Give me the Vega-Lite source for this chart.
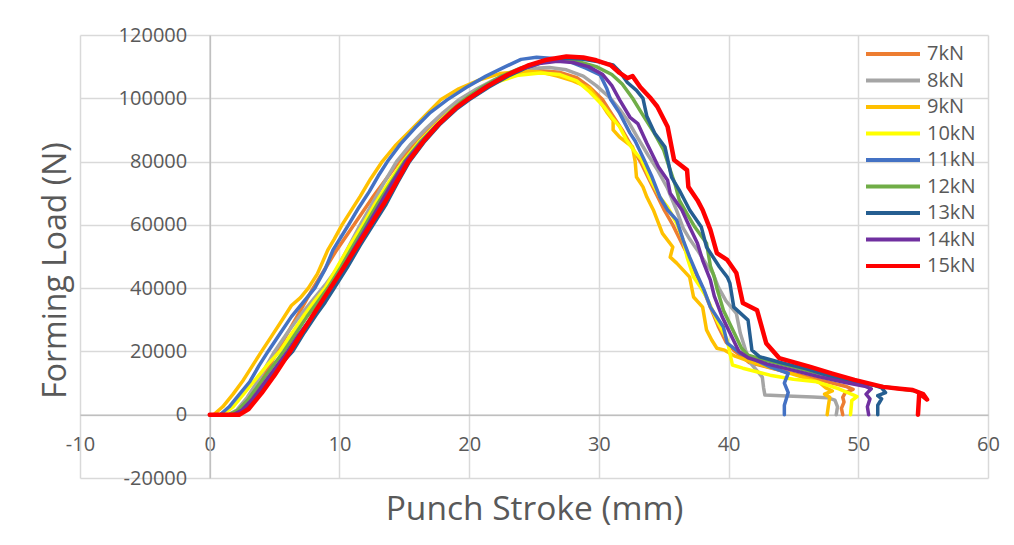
{
"$schema":"https://vega.github.io/schema/vega-lite/v6.json",
"width":908,"height":443,
"autosize":{"type":"none"},
"padding":{"left":80,"top":35,"right":26,"bottom":67},
"background":"white",
"config":{"view":{"stroke":null},"font":"Open Sans"},
"data":{"values":[
{"s":"7kN","x":0,"y":0},{"s":"7kN","x":1.6,"y":0},{"s":"7kN","x":2.3,"y":1500},{"s":"7kN","x":3.0,"y":5000},{"s":"7kN","x":3.8,"y":9500},{"s":"7kN","x":4.5,"y":14500},{"s":"7kN","x":5.2,"y":20000},{"s":"7kN","x":6.1,"y":26500},{"s":"7kN","x":7.0,"y":33000},{"s":"7kN","x":7.9,"y":39500},{"s":"7kN","x":8.8,"y":45500},{"s":"7kN","x":9.7,"y":51500},{"s":"7kN","x":10.7,"y":57500},{"s":"7kN","x":11.7,"y":63500},{"s":"7kN","x":12.7,"y":69500},{"s":"7kN","x":13.7,"y":75000},{"s":"7kN","x":14.6,"y":80000},{"s":"7kN","x":15.7,"y":85000},{"s":"7kN","x":16.9,"y":90000},{"s":"7kN","x":18.2,"y":95000},{"s":"7kN","x":19.5,"y":99500},{"s":"7kN","x":21.0,"y":103500},{"s":"7kN","x":22.5,"y":106500},{"s":"7kN","x":24.0,"y":108200},{"s":"7kN","x":25.5,"y":108700},{"s":"7kN","x":27.0,"y":108200},{"s":"7kN","x":28.3,"y":106500},{"s":"7kN","x":29.3,"y":103500},{"s":"7kN","x":30.3,"y":99500},{"s":"7kN","x":31.0,"y":95000},{"s":"7kN","x":31.8,"y":90000},{"s":"7kN","x":32.5,"y":85000},{"s":"7kN","x":33.2,"y":80000},{"s":"7kN","x":33.8,"y":75000},{"s":"7kN","x":34.4,"y":70000},{"s":"7kN","x":35.0,"y":65000},{"s":"7kN","x":35.7,"y":60000},{"s":"7kN","x":36.3,"y":55000},{"s":"7kN","x":36.9,"y":50000},{"s":"7kN","x":37.5,"y":44500},{"s":"7kN","x":38.0,"y":40000},{"s":"7kN","x":38.6,"y":34000},{"s":"7kN","x":39.2,"y":28000},{"s":"7kN","x":39.8,"y":23000},{"s":"7kN","x":40.5,"y":20000},{"s":"7kN","x":41.6,"y":16500},{"s":"7kN","x":43.5,"y":14500},{"s":"7kN","x":45.5,"y":12500},{"s":"7kN","x":47.5,"y":10500},{"s":"7kN","x":49.0,"y":9000},{"s":"7kN","x":49.6,"y":8000},{"s":"7kN","x":49.0,"y":7000},{"s":"7kN","x":48.8,"y":5500},{"s":"7kN","x":48.9,"y":4000},{"s":"7kN","x":48.7,"y":2000},{"s":"7kN","x":48.8,"y":0},
{"s":"8kN","x":0,"y":0},{"s":"8kN","x":1.4,"y":0},{"s":"8kN","x":2.1,"y":1500},{"s":"8kN","x":2.9,"y":5500},{"s":"8kN","x":3.6,"y":10000},{"s":"8kN","x":4.3,"y":15000},{"s":"8kN","x":5.0,"y":20000},{"s":"8kN","x":6.0,"y":26000},{"s":"8kN","x":7.0,"y":31500},{"s":"8kN","x":8.0,"y":36500},{"s":"8kN","x":8.9,"y":41000},{"s":"8kN","x":9.8,"y":46000},{"s":"8kN","x":10.7,"y":53000},{"s":"8kN","x":11.6,"y":60000},{"s":"8kN","x":12.5,"y":66500},{"s":"8kN","x":13.4,"y":73000},{"s":"8kN","x":14.4,"y":80000},{"s":"8kN","x":15.5,"y":85500},{"s":"8kN","x":16.7,"y":90500},{"s":"8kN","x":18.0,"y":95500},{"s":"8kN","x":19.2,"y":99500},{"s":"8kN","x":20.6,"y":103000},{"s":"8kN","x":22.0,"y":106000},{"s":"8kN","x":23.5,"y":108300},{"s":"8kN","x":25.0,"y":109500},{"s":"8kN","x":26.2,"y":109700},{"s":"8kN","x":27.5,"y":109000},{"s":"8kN","x":28.8,"y":107000},{"s":"8kN","x":29.8,"y":104000},{"s":"8kN","x":30.9,"y":100000},{"s":"8kN","x":31.6,"y":96500},{"s":"8kN","x":32.3,"y":92500},{"s":"8kN","x":33.0,"y":87500},{"s":"8kN","x":33.8,"y":82000},{"s":"8kN","x":34.5,"y":77500},{"s":"8kN","x":35.3,"y":71500},{"s":"8kN","x":36.0,"y":64500},{"s":"8kN","x":36.5,"y":59000},{"s":"8kN","x":37.0,"y":55500},{"s":"8kN","x":37.6,"y":52000},{"s":"8kN","x":38.3,"y":47500},{"s":"8kN","x":38.8,"y":44700},{"s":"8kN","x":39.2,"y":40400},{"s":"8kN","x":39.8,"y":36000},{"s":"8kN","x":40.6,"y":32000},{"s":"8kN","x":40.9,"y":25800},{"s":"8kN","x":41.3,"y":20500},{"s":"8kN","x":41.7,"y":16300},{"s":"8kN","x":42.6,"y":11900},{"s":"8kN","x":42.7,"y":8500},{"s":"8kN","x":42.8,"y":6200},{"s":"8kN","x":44.5,"y":5900},{"s":"8kN","x":46.5,"y":5600},{"s":"8kN","x":47.6,"y":5400},{"s":"8kN","x":48.2,"y":4600},{"s":"8kN","x":48.4,"y":2500},{"s":"8kN","x":48.3,"y":0},
{"s":"9kN","x":0,"y":0},{"s":"9kN","x":0.3,"y":0},{"s":"9kN","x":1.0,"y":2500},{"s":"9kN","x":1.8,"y":6500},{"s":"9kN","x":2.6,"y":11000},{"s":"9kN","x":3.3,"y":15500},{"s":"9kN","x":4.0,"y":20000},{"s":"9kN","x":4.8,"y":25000},{"s":"9kN","x":5.6,"y":30000},{"s":"9kN","x":6.3,"y":34500},{"s":"9kN","x":7.0,"y":37000},{"s":"9kN","x":7.6,"y":40000},{"s":"9kN","x":8.3,"y":44500},{"s":"9kN","x":9.1,"y":52000},{"s":"9kN","x":9.6,"y":55500},{"s":"9kN","x":10.2,"y":60000},{"s":"9kN","x":10.9,"y":64500},{"s":"9kN","x":11.6,"y":69000},{"s":"9kN","x":12.4,"y":74500},{"s":"9kN","x":13.3,"y":80000},{"s":"9kN","x":14.3,"y":85000},{"s":"9kN","x":15.4,"y":89500},{"s":"9kN","x":16.6,"y":94500},{"s":"9kN","x":17.8,"y":99500},{"s":"9kN","x":19.2,"y":103000},{"s":"9kN","x":20.8,"y":105800},{"s":"9kN","x":22.4,"y":107800},{"s":"9kN","x":24.2,"y":108600},{"s":"9kN","x":25.5,"y":108300},{"s":"9kN","x":26.8,"y":107000},{"s":"9kN","x":28.0,"y":105500},{"s":"9kN","x":29.3,"y":103200},{"s":"9kN","x":30.1,"y":98900},{"s":"9kN","x":30.6,"y":95700},{"s":"9kN","x":31.1,"y":93000},{"s":"9kN","x":31.1,"y":90000},{"s":"9kN","x":31.6,"y":87700},{"s":"9kN","x":32.6,"y":84600},{"s":"9kN","x":32.8,"y":80000},{"s":"9kN","x":32.9,"y":75100},{"s":"9kN","x":33.4,"y":72000},{"s":"9kN","x":33.7,"y":68800},{"s":"9kN","x":34.2,"y":64700},{"s":"9kN","x":34.9,"y":57300},{"s":"9kN","x":35.7,"y":53000},{"s":"9kN","x":35.5,"y":49800},{"s":"9kN","x":36.0,"y":47900},{"s":"9kN","x":37.0,"y":43500},{"s":"9kN","x":37.3,"y":37200},{"s":"9kN","x":38.0,"y":34000},{"s":"9kN","x":38.3,"y":26800},{"s":"9kN","x":38.7,"y":23600},{"s":"9kN","x":39.1,"y":21000},{"s":"9kN","x":39.7,"y":20400},{"s":"9kN","x":40.5,"y":18500},{"s":"9kN","x":42.0,"y":16300},{"s":"9kN","x":44.0,"y":14000},{"s":"9kN","x":46.0,"y":11500},{"s":"9kN","x":47.0,"y":10200},{"s":"9kN","x":47.5,"y":8500},{"s":"9kN","x":48.0,"y":7500},{"s":"9kN","x":47.4,"y":6500},{"s":"9kN","x":47.8,"y":5500},{"s":"9kN","x":47.7,"y":3000},{"s":"9kN","x":47.6,"y":0},
{"s":"10kN","x":0,"y":0},{"s":"10kN","x":1.0,"y":0},{"s":"10kN","x":1.8,"y":2500},{"s":"10kN","x":2.7,"y":7000},{"s":"10kN","x":3.6,"y":11500},{"s":"10kN","x":4.5,"y":16000},{"s":"10kN","x":5.4,"y":20000},{"s":"10kN","x":6.3,"y":25500},{"s":"10kN","x":7.2,"y":31000},{"s":"10kN","x":8.1,"y":36000},{"s":"10kN","x":8.9,"y":40000},{"s":"10kN","x":9.8,"y":46500},{"s":"10kN","x":10.8,"y":53500},{"s":"10kN","x":11.8,"y":60000},{"s":"10kN","x":12.8,"y":67000},{"s":"10kN","x":13.9,"y":74000},{"s":"10kN","x":14.9,"y":80000},{"s":"10kN","x":16.1,"y":86000},{"s":"10kN","x":17.4,"y":91500},{"s":"10kN","x":18.7,"y":96500},{"s":"10kN","x":20.3,"y":101500},{"s":"10kN","x":22.0,"y":105000},{"s":"10kN","x":23.8,"y":107300},{"s":"10kN","x":25.5,"y":108000},{"s":"10kN","x":27.0,"y":107500},{"s":"10kN","x":28.3,"y":105500},{"s":"10kN","x":29.3,"y":102000},{"s":"10kN","x":30.4,"y":97300},{"s":"10kN","x":31.0,"y":94000},{"s":"10kN","x":31.6,"y":91000},{"s":"10kN","x":32.1,"y":87000},{"s":"10kN","x":32.7,"y":83500},{"s":"10kN","x":33.3,"y":80500},{"s":"10kN","x":34.0,"y":74100},{"s":"10kN","x":34.7,"y":68800},{"s":"10kN","x":35.3,"y":65600},{"s":"10kN","x":36.0,"y":60500},{"s":"10kN","x":36.5,"y":55200},{"s":"10kN","x":36.8,"y":49800},{"s":"10kN","x":37.3,"y":43500},{"s":"10kN","x":37.8,"y":40500},{"s":"10kN","x":38.3,"y":37200},{"s":"10kN","x":39.2,"y":29000},{"s":"10kN","x":39.9,"y":23600},{"s":"10kN","x":40.1,"y":19500},{"s":"10kN","x":40.3,"y":15700},{"s":"10kN","x":41.1,"y":14700},{"s":"10kN","x":43.2,"y":12500},{"s":"10kN","x":45.0,"y":11200},{"s":"10kN","x":46.8,"y":10400},{"s":"10kN","x":48.5,"y":8200},{"s":"10kN","x":49.6,"y":6300},{"s":"10kN","x":49.9,"y":5700},{"s":"10kN","x":49.5,"y":4500},{"s":"10kN","x":49.4,"y":0},
{"s":"11kN","x":0,"y":0},{"s":"11kN","x":0.8,"y":0},{"s":"11kN","x":1.5,"y":2500},{"s":"11kN","x":2.3,"y":6500},{"s":"11kN","x":3.1,"y":10500},{"s":"11kN","x":3.8,"y":15500},{"s":"11kN","x":4.5,"y":20000},{"s":"11kN","x":5.4,"y":25500},{"s":"11kN","x":6.3,"y":31000},{"s":"11kN","x":7.2,"y":35500},{"s":"11kN","x":8.1,"y":40000},{"s":"11kN","x":8.9,"y":46000},{"s":"11kN","x":9.5,"y":52000},{"s":"11kN","x":10.1,"y":56000},{"s":"11kN","x":10.7,"y":60000},{"s":"11kN","x":11.5,"y":65500},{"s":"11kN","x":12.3,"y":70500},{"s":"11kN","x":13.0,"y":75500},{"s":"11kN","x":13.7,"y":80000},{"s":"11kN","x":14.7,"y":85500},{"s":"11kN","x":15.8,"y":90500},{"s":"11kN","x":17.0,"y":95500},{"s":"11kN","x":18.3,"y":99500},{"s":"11kN","x":19.8,"y":103500},{"s":"11kN","x":21.3,"y":107000},{"s":"11kN","x":22.8,"y":110000},{"s":"11kN","x":24.0,"y":112300},{"s":"11kN","x":25.2,"y":113000},{"s":"11kN","x":26.5,"y":112600},{"s":"11kN","x":27.8,"y":111500},{"s":"11kN","x":29.0,"y":109500},{"s":"11kN","x":30.1,"y":107400},{"s":"11kN","x":30.6,"y":103200},{"s":"11kN","x":30.9,"y":99700},{"s":"11kN","x":31.6,"y":95300},{"s":"11kN","x":32.4,"y":89000},{"s":"11kN","x":32.8,"y":86500},{"s":"11kN","x":33.4,"y":81400},{"s":"11kN","x":34.1,"y":75100},{"s":"11kN","x":34.7,"y":68800},{"s":"11kN","x":35.3,"y":64700},{"s":"11kN","x":36.0,"y":61500},{"s":"11kN","x":36.5,"y":55200},{"s":"11kN","x":37.0,"y":49800},{"s":"11kN","x":37.6,"y":44000},{"s":"11kN","x":38.1,"y":39500},{"s":"11kN","x":38.6,"y":34000},{"s":"11kN","x":39.6,"y":27700},{"s":"11kN","x":39.9,"y":22600},{"s":"11kN","x":40.9,"y":19400},{"s":"11kN","x":42.0,"y":17500},{"s":"11kN","x":43.2,"y":15100},{"s":"11kN","x":44.6,"y":13100},{"s":"11kN","x":44.3,"y":10000},{"s":"11kN","x":44.6,"y":7000},{"s":"11kN","x":44.3,"y":3000},{"s":"11kN","x":44.3,"y":0},
{"s":"12kN","x":0,"y":0},{"s":"12kN","x":1.5,"y":0},{"s":"12kN","x":2.2,"y":1500},{"s":"12kN","x":3.0,"y":5000},{"s":"12kN","x":3.8,"y":9500},{"s":"12kN","x":4.7,"y":14500},{"s":"12kN","x":5.7,"y":20000},{"s":"12kN","x":6.6,"y":25500},{"s":"12kN","x":7.5,"y":31000},{"s":"12kN","x":8.3,"y":35500},{"s":"12kN","x":9.1,"y":40000},{"s":"12kN","x":10.1,"y":46500},{"s":"12kN","x":11.0,"y":53000},{"s":"12kN","x":12.0,"y":60000},{"s":"12kN","x":13.0,"y":67000},{"s":"12kN","x":14.0,"y":73500},{"s":"12kN","x":15.0,"y":80000},{"s":"12kN","x":16.2,"y":86000},{"s":"12kN","x":17.5,"y":91500},{"s":"12kN","x":18.6,"y":96000},{"s":"12kN","x":19.6,"y":99500},{"s":"12kN","x":21.0,"y":103500},{"s":"12kN","x":22.5,"y":107000},{"s":"12kN","x":24.0,"y":109600},{"s":"12kN","x":25.5,"y":111300},{"s":"12kN","x":27.0,"y":112000},{"s":"12kN","x":28.5,"y":111500},{"s":"12kN","x":29.8,"y":110000},{"s":"12kN","x":31.0,"y":107500},{"s":"12kN","x":31.8,"y":104500},{"s":"12kN","x":32.6,"y":100000},{"s":"12kN","x":33.3,"y":95300},{"s":"12kN","x":34.2,"y":89500},{"s":"12kN","x":35.0,"y":83600},{"s":"12kN","x":35.5,"y":77300},{"s":"12kN","x":35.9,"y":72500},{"s":"12kN","x":36.2,"y":67800},{"s":"12kN","x":36.8,"y":63500},{"s":"12kN","x":37.4,"y":59300},{"s":"12kN","x":38.3,"y":54200},{"s":"12kN","x":38.6,"y":47000},{"s":"12kN","x":38.9,"y":43500},{"s":"12kN","x":39.1,"y":40000},{"s":"12kN","x":39.6,"y":33000},{"s":"12kN","x":40.3,"y":27000},{"s":"12kN","x":41.0,"y":21000},{"s":"12kN","x":41.5,"y":18800},{"s":"12kN","x":43.0,"y":17000},{"s":"12kN","x":45.0,"y":15000},{"s":"12kN","x":47.0,"y":13000},{"s":"12kN","x":49.0,"y":11000},{"s":"12kN","x":51.0,"y":9400},{"s":"12kN","x":53.0,"y":8300},{"s":"12kN","x":54.3,"y":7600},{"s":"12kN","x":55.0,"y":6500},{"s":"12kN","x":55.3,"y":4800},
{"s":"13kN","x":0,"y":0},{"s":"13kN","x":2.0,"y":0},{"s":"13kN","x":2.7,"y":1500},{"s":"13kN","x":3.5,"y":5000},{"s":"13kN","x":4.5,"y":10500},{"s":"13kN","x":5.5,"y":16000},{"s":"13kN","x":6.4,"y":20000},{"s":"13kN","x":7.3,"y":26000},{"s":"13kN","x":8.2,"y":31500},{"s":"13kN","x":8.9,"y":35500},{"s":"13kN","x":9.6,"y":40000},{"s":"13kN","x":10.6,"y":46500},{"s":"13kN","x":11.6,"y":53500},{"s":"13kN","x":12.6,"y":60000},{"s":"13kN","x":13.6,"y":66500},{"s":"13kN","x":14.5,"y":73500},{"s":"13kN","x":15.4,"y":80000},{"s":"13kN","x":16.6,"y":86500},{"s":"13kN","x":17.8,"y":92000},{"s":"13kN","x":19.0,"y":96500},{"s":"13kN","x":20.0,"y":99500},{"s":"13kN","x":21.5,"y":103500},{"s":"13kN","x":23.0,"y":107000},{"s":"13kN","x":24.5,"y":109800},{"s":"13kN","x":26.0,"y":111800},{"s":"13kN","x":27.5,"y":112700},{"s":"13kN","x":28.8,"y":112300},{"s":"13kN","x":30.0,"y":111500},{"s":"13kN","x":31.1,"y":110500},{"s":"13kN","x":31.6,"y":108500},{"s":"13kN","x":32.2,"y":105000},{"s":"13kN","x":32.9,"y":102500},{"s":"13kN","x":33.4,"y":100000},{"s":"13kN","x":33.7,"y":94300},{"s":"13kN","x":34.3,"y":89000},{"s":"13kN","x":35.1,"y":84600},{"s":"13kN","x":35.6,"y":75100},{"s":"13kN","x":36.2,"y":71000},{"s":"13kN","x":37.0,"y":64700},{"s":"13kN","x":37.9,"y":59300},{"s":"13kN","x":38.3,"y":53000},{"s":"13kN","x":39.3,"y":46700},{"s":"13kN","x":39.9,"y":43500},{"s":"13kN","x":40.1,"y":41600},{"s":"13kN","x":40.4,"y":34000},{"s":"13kN","x":41.5,"y":29900},{"s":"13kN","x":41.8,"y":20400},{"s":"13kN","x":42.4,"y":18300},{"s":"13kN","x":44.0,"y":16500},{"s":"13kN","x":46.0,"y":14500},{"s":"13kN","x":48.0,"y":12000},{"s":"13kN","x":50.0,"y":10200},{"s":"13kN","x":51.3,"y":9200},{"s":"13kN","x":51.8,"y":8500},{"s":"13kN","x":52.1,"y":7000},{"s":"13kN","x":51.5,"y":6000},{"s":"13kN","x":51.8,"y":5000},{"s":"13kN","x":51.5,"y":3000},{"s":"13kN","x":51.5,"y":0},
{"s":"14kN","x":0,"y":0},{"s":"14kN","x":1.8,"y":0},{"s":"14kN","x":2.5,"y":1500},{"s":"14kN","x":3.3,"y":5000},{"s":"14kN","x":4.2,"y":10000},{"s":"14kN","x":5.1,"y":15000},{"s":"14kN","x":6.0,"y":20000},{"s":"14kN","x":6.9,"y":25500},{"s":"14kN","x":7.8,"y":30500},{"s":"14kN","x":8.6,"y":35500},{"s":"14kN","x":9.3,"y":40000},{"s":"14kN","x":10.3,"y":46500},{"s":"14kN","x":11.2,"y":53000},{"s":"14kN","x":12.2,"y":60000},{"s":"14kN","x":13.2,"y":67000},{"s":"14kN","x":14.1,"y":73500},{"s":"14kN","x":15.1,"y":80000},{"s":"14kN","x":16.3,"y":86000},{"s":"14kN","x":17.5,"y":91500},{"s":"14kN","x":18.7,"y":96000},{"s":"14kN","x":19.8,"y":99500},{"s":"14kN","x":21.2,"y":103500},{"s":"14kN","x":22.6,"y":106800},{"s":"14kN","x":24.0,"y":109200},{"s":"14kN","x":25.4,"y":111000},{"s":"14kN","x":26.8,"y":111700},{"s":"14kN","x":28.0,"y":111300},{"s":"14kN","x":29.2,"y":110000},{"s":"14kN","x":30.3,"y":107500},{"s":"14kN","x":31.0,"y":104000},{"s":"14kN","x":31.6,"y":99500},{"s":"14kN","x":32.4,"y":94000},{"s":"14kN","x":33.0,"y":92000},{"s":"14kN","x":33.7,"y":85800},{"s":"14kN","x":34.6,"y":78300},{"s":"14kN","x":35.3,"y":74100},{"s":"14kN","x":35.5,"y":70000},{"s":"14kN","x":36.4,"y":64700},{"s":"14kN","x":37.0,"y":59300},{"s":"14kN","x":37.6,"y":54200},{"s":"14kN","x":38.0,"y":48800},{"s":"14kN","x":38.6,"y":42500},{"s":"14kN","x":38.9,"y":37500},{"s":"14kN","x":39.5,"y":31000},{"s":"14kN","x":40.2,"y":25000},{"s":"14kN","x":40.8,"y":20000},{"s":"14kN","x":41.5,"y":18000},{"s":"14kN","x":43.0,"y":16000},{"s":"14kN","x":45.0,"y":14000},{"s":"14kN","x":47.0,"y":12000},{"s":"14kN","x":49.0,"y":10200},{"s":"14kN","x":50.5,"y":9000},{"s":"14kN","x":51.0,"y":8200},{"s":"14kN","x":50.6,"y":6500},{"s":"14kN","x":50.9,"y":5000},{"s":"14kN","x":50.7,"y":2500},{"s":"14kN","x":50.8,"y":0},
{"s":"15kN","x":0,"y":0},{"s":"15kN","x":2.3,"y":0},{"s":"15kN","x":3.0,"y":1800},{"s":"15kN","x":4.0,"y":6800},{"s":"15kN","x":5.0,"y":12500},{"s":"15kN","x":6.2,"y":20000},{"s":"15kN","x":7.2,"y":26500},{"s":"15kN","x":8.2,"y":33000},{"s":"15kN","x":9.3,"y":40000},{"s":"15kN","x":10.4,"y":47000},{"s":"15kN","x":11.4,"y":53500},{"s":"15kN","x":12.4,"y":60000},{"s":"15kN","x":13.4,"y":66500},{"s":"15kN","x":14.4,"y":73500},{"s":"15kN","x":15.3,"y":80000},{"s":"15kN","x":16.5,"y":86500},{"s":"15kN","x":17.7,"y":92000},{"s":"15kN","x":19.0,"y":97000},{"s":"15kN","x":20.0,"y":100000},{"s":"15kN","x":21.5,"y":104000},{"s":"15kN","x":23.0,"y":107500},{"s":"15kN","x":24.5,"y":110300},{"s":"15kN","x":26.0,"y":112200},{"s":"15kN","x":27.5,"y":113200},{"s":"15kN","x":28.8,"y":112900},{"s":"15kN","x":29.8,"y":112000},{"s":"15kN","x":30.9,"y":110500},{"s":"15kN","x":31.6,"y":108000},{"s":"15kN","x":32.2,"y":106400},{"s":"15kN","x":32.6,"y":107000},{"s":"15kN","x":33.2,"y":103500},{"s":"15kN","x":34.0,"y":100000},{"s":"15kN","x":34.5,"y":97400},{"s":"15kN","x":35.3,"y":91000},{"s":"15kN","x":35.8,"y":80500},{"s":"15kN","x":36.8,"y":77300},{"s":"15kN","x":36.9,"y":72000},{"s":"15kN","x":37.6,"y":67800},{"s":"15kN","x":38.0,"y":64700},{"s":"15kN","x":38.6,"y":58400},{"s":"15kN","x":39.1,"y":51100},{"s":"15kN","x":39.9,"y":48900},{"s":"15kN","x":40.6,"y":44800},{"s":"15kN","x":41.1,"y":35300},{"s":"15kN","x":42.2,"y":33000},{"s":"15kN","x":42.9,"y":22600},{"s":"15kN","x":43.9,"y":17900},{"s":"15kN","x":46.3,"y":15100},{"s":"15kN","x":48.0,"y":13000},{"s":"15kN","x":49.7,"y":11000},{"s":"15kN","x":51.9,"y":8800},{"s":"15kN","x":53.2,"y":8200},{"s":"15kN","x":54.2,"y":7800},{"s":"15kN","x":55.0,"y":6500},{"s":"15kN","x":55.3,"y":4800},{"s":"15kN","x":54.7,"y":6800},{"s":"15kN","x":54.6,"y":0}
]},
"transform":[{"window":[{"op":"row_number","as":"o"}]}],
"mark":{"type":"line","strokeJoin":"round","strokeCap":"round"},
"encoding":{
"x":{"field":"x","type":"quantitative","scale":{"domain":[-10,60],"nice":false,"zero":false},
"axis":{"values":[-10,0,10,20,30,40,50,60],"labelExpr":"replace(datum.label,'\u2212','-')","offset":-63.3,"title":"Punch Stroke (mm)","titleFont":"Open Sans","titleFontSize":33.5,"titleFontWeight":"normal","titleColor":"#595959","titleX":454,"titleY":105,"titleBaseline":"alphabetic","titleAlign":"center","labelFont":"Open Sans","labelFontSize":20,"labelColor":"#595959","labelPadding":20,"ticks":false,"domainColor":"#BFBFBF","domainWidth":1.5,"grid":true,"gridColor":"#D9D9D9","gridWidth":1.5,"labelFlush":false}},
"y":{"field":"y","type":"quantitative","scale":{"domain":[-20000,120000],"nice":false,"zero":false},
"axis":{"values":[-20000,0,20000,40000,60000,80000,100000,120000],"format":"d","labelExpr":"replace(datum.label,'\u2212','-')","offset":-129.7,"title":"Forming Load (N)","titleFont":"Open Sans","titleFontSize":32,"titleFontWeight":"normal","titleColor":"#595959","titleX":-144,"titleY":235,"titleAngle":-90,"titleBaseline":"alphabetic","titleAlign":"center","labelFont":"Open Sans","labelFontSize":20,"labelColor":"#595959","labelPadding":23,"ticks":false,"domainColor":"#BFBFBF","domainWidth":1.5,"grid":true,"gridColor":"#D9D9D9","gridWidth":1.5,"labelFlush":false}},
"color":{"field":"s","type":"nominal","scale":{"domain":["7kN","8kN","9kN","10kN","11kN","12kN","13kN","14kN","15kN"],"range":["#ED7D31","#A5A5A5","#FFC000","#FFFF00","#4472C4","#70AD47","#255E91","#7030A0","#FF0000"]},
"legend":{"orient":"none","legendX":801,"legendY":7,"title":null,"symbolType":"M-2.7,0H2.7","symbolSize":400,"symbolStrokeWidth":4,"labelFont":"Open Sans","labelFontSize":20,"labelColor":"#595959","labelOffset":22,"rowPadding":4.5,"padding":0}},
"order":{"field":"o","type":"quantitative"},
"strokeWidth":{"condition":{"test":"datum.s === '15kN'","value":4.5},"value":3.5}
}
}
